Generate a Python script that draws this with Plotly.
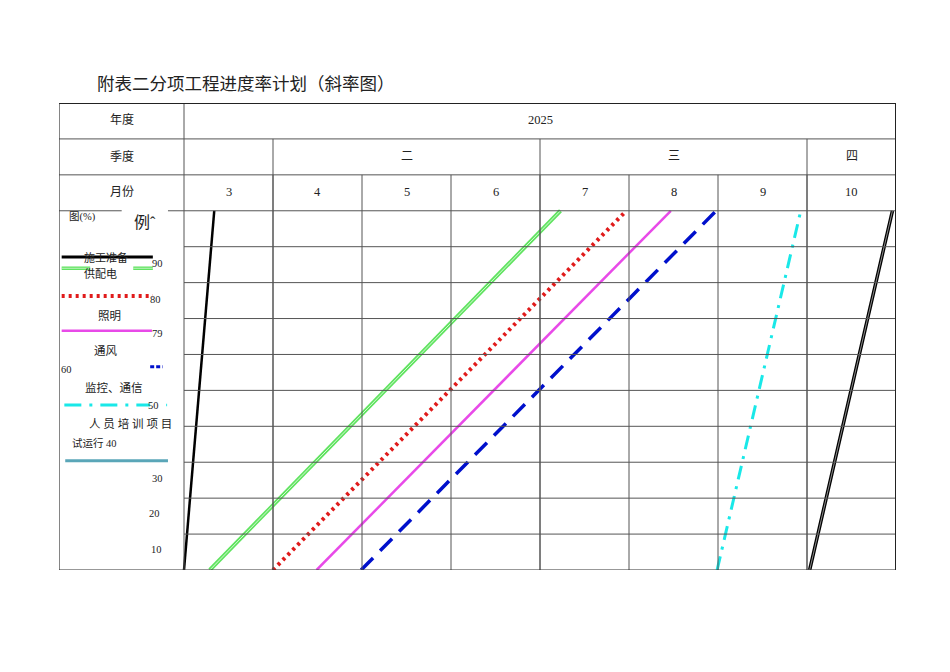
import plotly.graph_objects as go

# progress lines: (start month, end month) reading from 0% to 100%
items = ['施工准备', '供配电', '照明', '通风', '监控、通信', '人员培训项目试运行']
start_month = [3.00, 3.29, 4.00, 4.49, 4.99, 8.99, 10.03]
end_month = [3.34, 7.23, 7.97, 8.47, 8.98, 9.93, 10.96]
pct = [0, 100]

months = ['3', '4', '5', '6', '7', '8', '9', '10']
quarters = ['', '二', '三', '四']
quarter_edges = [3, 4, 7, 10, 11]
year = '2025'
pct_labels = ['10', '20', '30', '试运行 40', '50', '60', '79', '80', '90']

SERIF = 'Liberation Serif, Noto Sans CJK SC'
X0 = 3 - 125 / 89  # left edge of the legend column

fig = go.Figure()

styles = [
    dict(color='black', width=2.5),
    dict(color='#5fe35f', width=4),
    dict(color='#e01b1b', width=4, dash='3px,4px'),
    dict(color='#e84ae8', width=2.5),
    dict(color='#0010cc', width=3.5, dash='17px,10px'),
    dict(color='#19e8e8', width=3, dash='14px,7px,3px,7px'),
    dict(color='black', width=3.5),
]
for i in range(len(start_month)):
    fig.add_trace(go.Scatter(x=[start_month[i], end_month[i]], y=pct, mode='lines',
                             line=styles[i], showlegend=False, hoverinfo='skip'))
# inner highlight for the double lines
fig.add_trace(go.Scatter(x=[start_month[1], end_month[1]], y=pct, mode='lines',
                         line=dict(color='#d8f8d8', width=1), showlegend=False, hoverinfo='skip'))
fig.add_trace(go.Scatter(x=[start_month[6], end_month[6]], y=pct, mode='lines',
                         line=dict(color='#b0b0b0', width=0.8), showlegend=False, hoverinfo='skip'))

shapes = []
grid = dict(color='#555555', width=1)


def hline(x0, x1, y, line=grid):
    shapes.append(dict(type='line', xref='x', yref='y', x0=x0, x1=x1, y0=y, y1=y, line=line))


def vline(x, y0, y1, line=grid):
    shapes.append(dict(type='line', xref='x', yref='y', x0=x, x1=x, y0=y0, y1=y1, line=line))


# table body grid
for k in range(1, 10):
    hline(3, 11, k * 10)
for m in range(4, 11):
    vline(m, 0, 110)
for q in quarter_edges[1:-1]:
    vline(q, 0, 120)
hline(X0, 3 - 0.7, 100)
hline(3 - 0.18, 11, 100)
hline(X0, 11, 110)
hline(X0, 11, 120)
vline(3, 0, 130)
# outer frame
border = dict(color='#222222', width=2)
hline(X0, 11, 130, border)
hline(X0, 11, 0, dict(color='#333333', width=1.2))
vline(X0, 0, 130, dict(color='#333333', width=1.2))
vline(11, 0, 130, border)

# legend swatches
lx0, lx1 = X0 + 0.03, 3 - 0.35
shapes.append(dict(type='line', xref='x', yref='y', x0=lx0, x1=lx1, y0=87.1, y1=87.1,
                   line=dict(color='black', width=3)))
for a, b in [(lx0, X0 + 0.35), (3 - 0.57, lx1)]:
    shapes.append(dict(type='line', xref='x', yref='y', x0=a, x1=b, y0=84, y1=84,
                       line=dict(color='#5fe35f', width=3.5)))
    shapes.append(dict(type='line', xref='x', yref='y', x0=a, x1=b, y0=84, y1=84,
                       line=dict(color='#d8f8d8', width=0.8)))
shapes.append(dict(type='line', xref='x', yref='y', x0=lx0, x1=lx1, y0=76.3, y1=76.3,
                   line=dict(color='#e01b1b', width=4, dash='3px,4px')))
shapes.append(dict(type='line', xref='x', yref='y', x0=lx0, x1=lx1 - 0.01, y0=66.6, y1=66.6,
                   line=dict(color='#e84ae8', width=2.5)))
shapes.append(dict(type='line', xref='x', yref='y', x0=3 - 0.38, x1=3 - 0.24, y0=56.6, y1=56.6,
                   line=dict(color='#0010cc', width=3, dash='4px,2px')))
shapes.append(dict(type='line', xref='x', yref='y', x0=X0 + 0.06, x1=3 - 0.38, y0=45.9, y1=45.9,
                   line=dict(color='#19e8e8', width=3, dash='17px,8px,3px,8px')))
shapes.append(dict(type='line', xref='x', yref='y', x0=3 - 0.2, x1=3 - 0.19, y0=45.9, y1=45.9,
                   line=dict(color='#19e8e8', width=2.5)))
shapes.append(dict(type='line', xref='x', yref='y', x0=X0 + 0.07, x1=3 - 0.18, y0=30.4, y1=30.4,
                   line=dict(color='#5aa6b8', width=3)))

ann = []


def text(x, y, s, size=11, xanchor='center', family=SERIF):
    ann.append(dict(x=x, y=y, xref='x', yref='y', text=s, showarrow=False,
                    xanchor=xanchor, yanchor='middle', font=dict(family=family, size=size, color='#222')))


# header texts
hx = X0 + (3 - X0) / 2
text(hx, 125.3, '年度', size=12)
text(hx, 115.2, '季度', size=12)
text(hx, 105.1, '月份', size=12)
text(7, 125.3, year, size=12.5)
for i, q in enumerate(quarters):
    text((quarter_edges[i] + quarter_edges[i + 1]) / 2, 115.2, q, size=12)
for i, m in enumerate(months):
    text(3.5 + i, 105.1, m, size=12.5)

# legend texts
text(X0 + 0.09, 98.3, '图(%)', size=10.5, xanchor='left')
text(3 - 0.58, 96.8, '例ˆ', size=16, xanchor='left')
text(X0 + 0.26, 87.0, '施工准备', size=11, xanchor='left')
text(X0 + 0.26, 82.6, '供配电', size=11, xanchor='left')
text(X0 + 0.42, 70.6, '照明', size=11.5, xanchor='left')
text(X0 + 0.37, 60.9, '通风', size=11.5, xanchor='left')
text(X0 + 0.27, 50.7, '监控、通信', size=11.5, xanchor='left')
text(X0 + 0.31, 40.8, '人 员 培 训 项 目', size=11.5, xanchor='left')

lab_x = [156, 154, 157, 94, 153, 66, 157, 155, 157]
lab_y = [5.6, 15.6, 25.6, 35.4, 45.9, 55.7, 65.7, 75.4, 85.2]
for s, px, y in zip(pct_labels, lab_x, lab_y):
    text(X0 + (px - 59) / 89, y, s, size=10.5)

# the page adds an 8px body margin, so the figure is shrunk by that much
fig.update_layout(
    width=934, height=656, autosize=False,
    margin=dict(l=51, r=46, t=95, b=94),
    paper_bgcolor='white', plot_bgcolor='white',
    xaxis=dict(range=[X0, 11], visible=False, fixedrange=True),
    yaxis=dict(range=[0, 130], visible=False, fixedrange=True),
    shapes=shapes, annotations=ann,
    title=dict(text='附表二分项工程进度率计划（斜率图）', x=89 / 934, xanchor='left',
               y=1 - 76 / 656, yanchor='middle',
               font=dict(family='Noto Sans CJK SC', size=17.5, color='#222')),
)

fig.write_html('out.html')
